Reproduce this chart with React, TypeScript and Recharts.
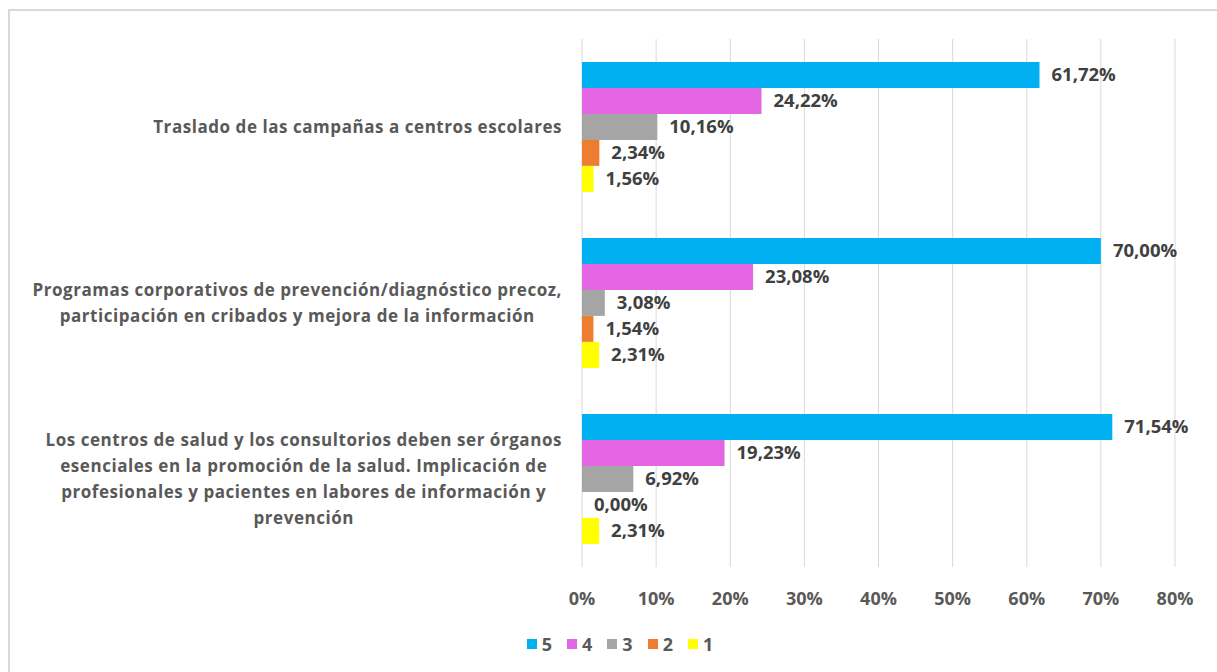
import React from "react";
import {
  BarChart,
  Bar,
  XAxis,
  YAxis,
  CartesianGrid,
  Legend,
  LabelList,
} from "recharts";

// categories, top to bottom
const categories = [
  "Traslado de las campañas a centros escolares",
  "Programas corporativos de prevención/diagnóstico precoz, participación en cribados y mejora de la información",
  "Los centros de salud y los consultorios deben ser órganos esenciales en la promoción de la salud. Implicación de profesionales y pacientes en labores de información y prevención",
];

// how each category label wraps
const categoryLines = [
  ["Traslado de las campañas a centros escolares"],
  [
    "Programas corporativos de prevención/diagnóstico precoz,",
    "participación en cribados y mejora de la información",
  ],
  [
    "Los centros de salud y los consultorios deben ser órganos",
    "esenciales en la promoción de la salud. Implicación de",
    "profesionales y pacientes en labores de información y",
    "prevención",
  ],
];

const seriesNames = ["5", "4", "3", "2", "1"];
const series5 = [61.72, 70.0, 71.54];
const series4 = [24.22, 23.08, 19.23];
const series3 = [10.16, 3.08, 6.92];
const series2 = [2.34, 1.54, 0.0];
const series1 = [1.56, 2.31, 2.31];

const xTicks = [0, 10, 20, 30, 40, 50, 60, 70, 80];

const colors = ["#00B0F0", "#E466E4", "#A5A5A5", "#ED7D31", "#FFFF00"];

const FONT = "'Open Sans', sans-serif";
const CAT_SIZE = 17;
const CAT_LS = 0.55;

const data = categories.map((name, i) => ({
  name,
  s5: series5[i],
  s4: series4[i],
  s3: series3[i],
  s2: series2[i],
  s1: series1[i],
}));

const keys = ["s5", "s4", "s3", "s2", "s1"];

const fmt = (v: any) => Number(v).toFixed(2).replace(".", ",") + "%";

let ctx: CanvasRenderingContext2D | null = null;
const measure = (t: string) => {
  if (!ctx) ctx = document.createElement("canvas").getContext("2d");
  if (!ctx) return t.length * 10;
  ctx.font = `bold ${CAT_SIZE}px ${FONT}`;
  return ctx.measureText(t).width + t.length * CAT_LS;
};

const CategoryTick = ({ x, y, payload }: any) => {
  const idx = categories.indexOf(payload.value);
  const lines = idx >= 0 ? categoryLines[idx] : [payload.value];
  const blockW = Math.max(...lines.map(measure));
  const cx = x - 12 - blockW / 2;
  const lh = 26;
  const startY = y - ((lines.length - 1) * lh) / 2;
  return (
    <g>
      {lines.map((l, i) => (
        <text
          key={i}
          x={cx}
          y={startY + i * lh}
          dy="0.35em"
          textAnchor="middle"
          fill="#595959"
          fontSize={CAT_SIZE}
          fontWeight="bold"
          fontFamily={FONT}
          letterSpacing={CAT_LS}
        >
          {l}
        </text>
      ))}
    </g>
  );
};

const CustomLegend = () => (
  <div
    style={{
      display: "flex",
      justifyContent: "center",
      gap: 15,
      fontFamily: FONT,
      fontWeight: "bold",
      fontSize: 18,
      lineHeight: "20px",
      color: "#595959",
    }}
  >
    {seriesNames.map((n, i) => (
      <div key={n} style={{ display: "flex", alignItems: "center" }}>
        <span
          style={{
            display: "inline-block",
            width: 10,
            height: 10,
            background: colors[i],
            marginRight: 5,
          }}
        />
        {n}
      </div>
    ))}
  </div>
);

export default function App() {
  return (
    <div
      style={{
        position: "absolute",
        left: 0,
        top: 0,
        width: 1217,
        height: 672,
        overflow: "hidden",
        background: "#fff",
      }}
    >
      <div
        style={{
          position: "absolute",
          left: 8,
          top: 9,
          width: 1230,
          height: 700,
          borderTop: "2px solid #D9D9D9",
          borderLeft: "2px solid #D9D9D9",
        }}
      />
      <div style={{ position: "absolute", left: 0, top: 0 }}>
        <BarChart
          width={1217}
          height={672}
          data={data}
          layout="vertical"
          margin={{ top: 39, right: 42, bottom: 45, left: 12 }}
          barCategoryGap="13%"
          barGap={0}
        >
          <CartesianGrid horizontal={false} stroke="#D9D9D9" />
          <XAxis
            type="number"
            domain={[0, 80]}
            ticks={xTicks}
            tickFormatter={(v) => `${v}%`}
            axisLine={false}
            tickLine={false}
            height={40}
            tickMargin={19}
            tick={{ fill: "#595959", fontSize: 18, fontWeight: "bold", fontFamily: FONT }}
          />
          <YAxis
            type="category"
            dataKey="name"
            width={570}
            axisLine={false}
            tickLine={false}
            tick={<CategoryTick />}
          />
          <Legend
            verticalAlign="bottom"
            content={<CustomLegend />}
            wrapperStyle={{ left: 0, width: 1240, top: 634 }}
          />
          {keys.map((k, i) => (
            <Bar
              key={k}
              dataKey={k}
              name={seriesNames[i]}
              fill={colors[i]}
              minPointSize={0.01}
              isAnimationActive={false}
            >
              <LabelList
                dataKey={k}
                position="right"
                offset={12}
                formatter={fmt}
                fill="#404040"
                fontSize={18.5}
                fontWeight="bold"
                fontFamily={FONT}
              />
            </Bar>
          ))}
        </BarChart>
      </div>
    </div>
  );
}
